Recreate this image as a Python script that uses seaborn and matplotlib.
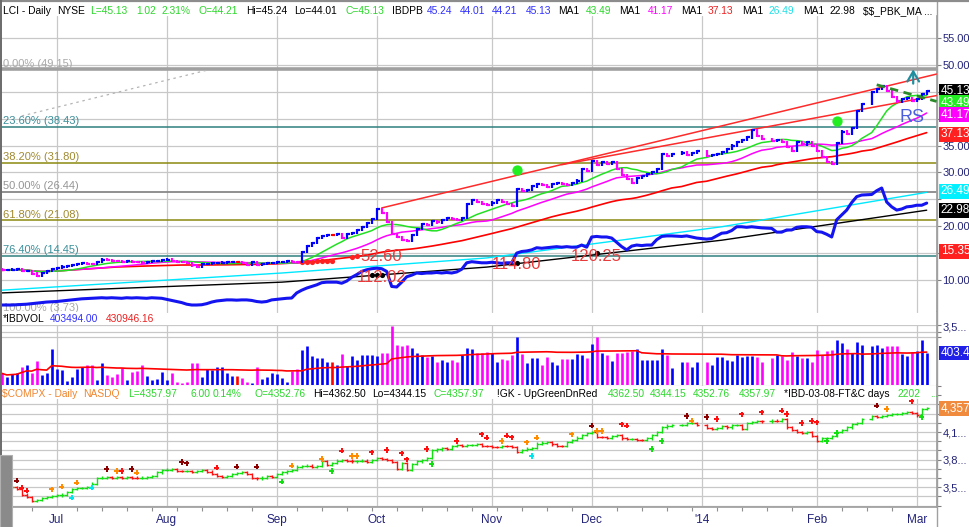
import numpy as np
import pandas as pd
import matplotlib
matplotlib.use("Agg")
import matplotlib.pyplot as plt
import matplotlib.transforms as mtransforms
from matplotlib.lines import Line2D
from matplotlib.patches import Rectangle
from matplotlib.ticker import FixedLocator, FixedFormatter, NullLocator
import seaborn as sns

sns.set_theme(style="white")
plt.rcParams['font.family'] = ['Liberation Sans', 'DejaVu Sans']

nan = np.nan

# trading calendar; the Dec-Feb holidays keep an empty slot like the source chart
calendar = pd.bdate_range("2013-06-14", "2014-03-07")
calendar = calendar.drop(pd.to_datetime(["2013-07-04", "2013-09-02", "2013-11-28"]))

# ---- LCI daily closes (one per slot, nan = holiday slot)
lci_prev_close = 12.0
lci_close = [
    11.8, 11.9, 11.95, 12.0, 11.6, 11.7, 11.2, 10.8, 11.3, 11.7,
    12.0, 12.3, 12.5, 12.6, 12.8, 12.9, 13.2, 13.0, 12.9, 13.3,
    13.8, 13.7, 13.6, 13.5, 13.3, 13.5, 13.4, 13.3, 13.2, 13.4,
    13.5, 13.6, 13.7, 13.8, 13.6, 13.4, 13.3, 13.1, 12.7, 12.5,
    12.9, 13.0, 13.1, 13.2, 13.25, 13.3, 13.35, 13.35, 13.1, 12.8,
    13.3, 12.8, 13.0, 13.1, 13.2, 13.3, 13.4, 13.5, 13.4, 13.3,
    15.2, 16.4, 16.9, 17.8, 18.2, 18.4, 18.4, 18.6, 17.9, 18.5,
    18.8, 19.3, 19.9, 20.6, 21.4, 23.2, 22.4, 20.8, 18.6, 18.0,
    17.5, 17.2, 18.4, 19.5, 20.4, 20.2, 20.9, 20.7, 21.2, 21.5,
    21.3, 21.1, 21.5, 24.2, 24.8, 24.5, 24.2, 23.9, 24.4, 24.8,
    24.5, 24.2, 23.8, 26.9, 26.5, 26.8, 27.4, 27.9, 27.6, 27.3,
    27.8, 28.1, 27.9, 27.7, 28.1, 28.5, 30.6, 30.2, 32.2, 31.4,
    32.0, 31.6, 31.9, 30.6, 29.6, 28.8, 28.0, 28.9, 29.3, 29.7,
    30.1, 30.6, 33.4, 33.0, 33.5, nan, 33.7, 33.2, 33.6, 33.9,
    nan, 33.0, 33.2, 33.4, 33.8, 34.4, 35.0, 35.6, 36.0, 36.5,
    37.8, 36.8, 36.2, nan, 35.8, 36.1, 35.6, 34.8, 34.0, 35.6,
    35.2, 35.7, 35.0, 34.0, 32.9, 32.0, 31.5, 35.4, 37.6, 37.2,
    38.3, 41.5, 42.8, nan, 44.9, 45.5, 46.0, 45.2, 44.0, 43.2,
    43.6, 43.9, 43.3, 43.7, 44.6, 45.13,
]

# relative strength line, drawn in the price panel's units
rs_line = [
    5.35, 5.35, 5.35, 5.4, 5.45, 5.5, 5.6, 5.7, 5.8, 5.9,
    5.95, 6.0, 6.1, 6.2, 6.3, 6.4, 6.5, 6.55, 6.6, 6.65,
    6.7, 6.65, 6.7, 6.65, 6.6, 6.7, 6.65, 6.7, 6.65, 6.6,
    6.7, 6.65, 6.6, 6.4, 6.2, 6.0, 5.8, 5.5, 5.35, 5.35,
    5.4, 5.6, 5.9, 6.1, 6.2, 6.3, 6.3, 6.25, 6.3, 6.3,
    6.2, 6.0, 5.9, 6.0, 6.3, 6.4, 6.5, 6.6, 6.65, 7.6,
    8.1, 8.5, 8.8, 9.1, 9.5, 9.6, 9.6, 9.6, 9.4, 9.8,
    10.5, 11.0, 11.6, 11.9, 12.1, 12.2, 12.1, 11.6, 8.8, 8.7,
    9.6, 10.6, 10.9, 11.3, 11.2, 11.3, 11.3, 11.4, 11.3, 11.4,
    11.3, 11.5, 12.0, 13.2, 13.4, 13.3, 13.2, 13.2, 13.3, 13.2,
    13.1, 13.2, 13.2, 15.0, 15.3, 15.4, 15.6, 16.0, 15.9, 16.0,
    16.1, 16.2, 16.1, 16.2, 16.1, 16.1, 16.5, 16.1, 18.0, 18.1,
    18.0, 18.0, 17.8, 17.0, 16.2, 15.6, 16.3, 16.5, 16.4, 16.5,
    16.5, 17.5, 18.1, 18.2, 18.2, nan, 18.1, 18.2, 18.0, 17.8,
    nan, 17.6, 17.7, 18.2, 18.7, 18.8, 19.2, 19.9, 19.9, 19.8,
    19.9, 19.8, 19.7, nan, 19.6, 18.9, 18.9, 19.3, 19.3, 19.8,
    19.9, 19.9, 19.8, 19.0, 18.9, 18.5, 18.0, 21.2, 22.1, 23.0,
    24.4, 25.5, 25.8, nan, 25.9, 26.6, 27.1, 24.5, 23.6, 23.0,
    23.2, 23.6, 23.7, 23.9, 23.9, 24.3,
]

# daily volume, thousands of shares
lci_volume_k = [
    70, 52, 66, 70, 118, 144, 74, 202, 61, 70,
    556, 99, 93, 36, 52, 99, 124, 144, 144, 39,
    166, 61, 52, 66, 108, 39, 81, 88, 144, 56,
    39, 43, 81, 39, 70, 32, 30, 34, 166, 175,
    52, 99, 93, 124, 118, 70, 57, 57, 45, 34,
    30, 124, 42, 52, 74, 64, 45, 34, 88, 99,
    523, 738, 312, 269, 255, 191, 191, 144, 371, 132,
    312, 221, 340, 340, 340, 312, 394, 414, 4140, 805,
    738, 805, 605, 394, 340, 295, 312, 191, 221, 191,
    221, 191, 340, 605, 556, 394, 394, 429, 414, 191,
    234, 221, 340, 1644, 371, 175, 255, 255, 144, 279,
    191, 144, 234, 234, 234, 371, 340, 269, 877, 1644,
    414, 340, 202, 414, 394, 452, 493, 570, 221, 221,
    221, 221, 570, 340, 108, nan, 186, 186, 118, 186,
    nan, 186, 144, 279, 279, 221, 208, 340, 294, 312,
    312, 294, 186, nan, 255, 340, 312, 221, 429, 312,
    255, 255, 191, 523, 340, 493, 523, 1239, 982, 556,
    394, 1014, 805, nan, 738, 805, 605, 738, 738, 738,
    371, 312, 452, 493, 1239, 414,
]

# Nasdaq composite closes
compx_prev_close = 3470
compx_close = [
    3480, 3490, 3500, 3485, 3420, 3395, 3350, 3365, 3380, 3395,
    3405, 3410, 3420, 3445, 3480, 3490, 3495, 3500, 3540, 3600,
    3605, 3610, 3605, 3610, 3600, 3610, 3605, 3600, 3605, 3612,
    3625, 3660, 3690, 3692, 3695, 3680, 3675, 3678, 3670, 3680,
    3685, 3670, 3645, 3625, 3615, 3625, 3640, 3655, 3660, 3640,
    3600, 3595, 3605, 3620, 3612, 3645, 3660, 3680, 3690, 3725,
    3730, 3735, 3725, 3730, 3780, 3740, 3760, 3790, 3800, 3790,
    3780, 3785, 3790, 3775, 3800, 3820, 3810, 3800, 3770, 3700,
    3760, 3690, 3750, 3780, 3800, 3815, 3900, 3910, 3925, 3915,
    3950, 3955, 3945, 3955, 3960, 3965, 3950, 3945, 3940, 3935,
    3950, 3945, 3935, 3880, 3905, 3920, 3930, 3975, 3985, 3990,
    3965, 3950, 3945, 3990, 4015, 4040, 4065, 4090, 4095, 4050,
    4045, 4040, 4055, 4070, 4030, 4020, 4025, 4015, 4010, 4030,
    4070, 4100, 4150, 4170, 4175, nan, 4180, 4195, 4200, 4175,
    nan, 4145, 4130, 4140, 4160, 4150, 4175, 4180, 4135, 4195,
    4210, 4220, 4215, nan, 4225, 4220, 4245, 4150, 4120, 4100,
    4085, 4095, 4060, 4005, 4030, 4035, 4060, 4100, 4120, 4150,
    4190, 4200, 4240, nan, 4275, 4265, 4270, 4285, 4295, 4300,
    4310, 4315, 4310, 4280, 4352, 4357.97,
]

# signal dots on the Nasdaq panel: bar number, level, kind
compx_sig_bar = [3, 4, 5, 10, 12, 14, 15, 18, 21, 23, 24, 26, 27, 36, 37, 43, 47, 51,
                 56, 58, 64, 66, 68, 70, 71, 74, 77, 80, 81, 85, 86, 91, 96, 97, 100,
                 101, 102, 105, 106, 107, 114, 118, 119, 120, 124, 125, 130, 132, 137,
                 138, 141, 143, 148, 152, 156, 157, 160, 162, 163, 165, 167, 175, 177,
                 182, 184]
compx_sig_val = [3571, 3495, 3462, 3477, 3506, 3386, 3549, 3495, 3698, 3679, 3679, 3698,
                 3658, 3777, 3759, 3712, 3723, 3723, 3560, 3734, 3807, 3679, 3897, 3842,
                 3842, 3879, 3904, 3868, 3803, 3915, 3752, 4005, 4075, 4038, 4005, 4060,
                 4042, 3988, 3842, 4038, 4075, 4169, 4114, 4114, 4184, 4169, 3915, 4005,
                 4277, 4223, 4266, 4241, 4292, 4314, 4332, 4296, 4195, 4220, 4205, 4005,
                 4092, 4386, 4350, 4440, 4266]
compx_sig_kind = ["dist", "down", "down", "stall", "stall", "low", "stall", "low", "dist",
                  "stall", "down", "dist", "stall", "dist", "dist", "down", "dist", "dist",
                  "up", "stall", "stall", "up", "down", "stall", "stall", "down", "down",
                  "down", "down", "down", "up", "down", "down", "down", "stall", "down",
                  "down", "stall", "low", "stall", "stall", "dist", "stall", "stall", "down",
                  "down", "up", "up", "dist", "stall", "dist", "down", "down", "down", "down",
                  "down", "down", "down", "down", "up", "up", "dist", "stall", "down", "up"]

# overlay lines (endpoints / vertices)
rs_ma_dates = ["2013-06-14", "2013-09-04", "2013-10-31", "2014-01-07", "2014-03-05"]
rs_ma_fast = [8.1, 11.3, 14.1, 19.9, 26.3]
rs_ma_slow = [7.6, 9.6, 12.4, 17.4, 22.98]
chan_upper_dates = ["2013-10-02", "2014-03-07"]
chan_upper = [23.4, 48.3]
chan_lower_dates = ["2013-11-21", "2014-03-07"]
chan_lower = [31.45, 44.3]
pivot_dates = ["2014-02-19", "2014-03-07"]
pivot_line = [46.3, 43.2]
fib_trace_dates = ["2013-06-20", "2013-08-13"]
fib_trace = [40.5, 49.0]

fib_pct = ["0.00%", "23.60%", "38.20%", "50.00%", "61.80%", "76.40%", "100.00%"]
fib_level = [49.15, 38.43, 31.80, 26.44, 21.08, 14.45, 3.73]

buy_dot_bar = [103, 167]
buy_dot_val = [30.45, 39.6]
red_dot_bar = [60, 61, 62, 63, 64, 65, 66, 70, 71]
red_dot_val = [13.3, 13.4, 13.4, 13.5, 13.5, 13.6, 13.6, 14.3, 14.4]
rs_note_text = ["52.60", "112.02", "114.80", "120.25"]
rs_note_bar = [76, 76, 103, 119]
rs_note_val = [14.45, 10.55, 12.8, 14.3]
rs_mark_bar = [74, 75, 76, 103, 119]
rs_mark_val = [10.9, 10.9, 10.9, 13.2, 15.0]

price_last_text = ["45.13", "43.49", "41.17", "37.13", "26.49", "22.98", "15.35"]
price_last_val = [45.13, 43.49, 41.17, 37.13, 26.49, 22.98, 15.35]

# ---------------------------------------------------------------- colours
BLUE, MAG, RED, GRN = "#0000ff", "#ff00ff", "#ff0000", "#22e022"
CYAN, NAVY, GRID = "#00e8ff", "#23237a", "#c8c8c8"
HG, HB, HO = "#2bd82b", "#3030ff", "#f0852d"
sig_colors = {"dist": "#8b0000", "stall": "#ff8c00", "down": "#ff1010",
              "up": "#10e010", "low": "#00e5ee"}
price_last_col = ["#000000", "#22ee22", "#ff00ff", "#ff2020", "#00f0ff", "#000000", "#ff2020"]

W, H = 970, 527
fig = plt.figure(figsize=(9.7, 5.27), dpi=100, facecolor="white")


def rect(x0, y0, x1, y1):
    return [x0 / W, 1 - y1 / H, (x1 - x0) / W, (y1 - y0) / H]


ax_p = fig.add_axes(rect(1, 16, 937, 312))
ax_v = fig.add_axes(rect(1, 312, 937, 385), sharex=ax_p)
ax_c = fig.add_axes(rect(1, 385, 937, 507), sharex=ax_p)

slot_of = {d: i for i, d in enumerate(calendar)}


def slots(dates):
    return [slot_of[pd.Timestamp(d)] for d in dates]


n = len(lci_close)
assert n == len(rs_line) == len(lci_volume_k) == len(compx_close) == 186
bars = np.arange(n)
close = np.array(lci_close, float)
ok = ~np.isnan(close)
tb, tc = bars[ok], close[ok]

# ---------------------------------------------------------------- price panel
for lvl, col, lw in zip(fib_level, ["#a0a0a0", "#2f7f7f", "#8a8a10", "#888888",
                                    "#8a8a10", "#2f7f7f", "#a0a0a0"],
                        [2.6, 1.1, 1.1, 1.3, 1.1, 1.1, 1.1]):
    ax_p.axhline(lvl, color=col, lw=lw, zorder=1.5)

lab_cols = ["#a8a8a8", "#3a8f9a", "#a08a30", "#959595", "#a08a30", "#3a8f9a", "#a8a8a8"]
blend_p = mtransforms.blended_transform_factory(ax_p.transAxes, ax_p.transData)
lab_tr = mtransforms.offset_copy(blend_p, fig=fig, y=0.5, units="points")
for pct, lvl, col in zip(fib_pct, fib_level, lab_cols):
    ax_p.text(0.002, lvl, f"{pct} ({lvl:.2f})", transform=lab_tr, color=col,
              fontsize=8, va="bottom", ha="left", zorder=2)

ax_p.plot(slots(fib_trace_dates), fib_trace, color="#b4b4b4", lw=0.9,
          ls=(0, (2, 3)), zorder=2)

for w, col in [(50, RED), (21, MAG), (10, GRN)]:
    ma = pd.Series(tc).rolling(w, min_periods=1).mean().to_numpy()
    sns.lineplot(x=tb, y=ma, ax=ax_p, color=col, lw=1.1 if w < 50 else 1.2, zorder=2.5)

sns.lineplot(x=slots(rs_ma_dates), y=rs_ma_fast, ax=ax_p, color=CYAN, lw=1.0, zorder=2.5)
sns.lineplot(x=slots(rs_ma_dates), y=rs_ma_slow, ax=ax_p, color="black", lw=1.0, zorder=2.5)
sns.lineplot(x=bars, y=np.array(rs_line, float), ax=ax_p, color="#1414f0", lw=2.2, zorder=3)

ax_p.plot(slots(chan_upper_dates), chan_upper, color="#ff2a2a", lw=1.1, zorder=3)
ax_p.plot(slots(chan_lower_dates), chan_lower, color="#ff2a2a", lw=1.1, zorder=3)
ax_p.plot(slots(pivot_dates), pivot_line, color="#2a8a2a", lw=2.0, ls=(0, (3, 2)), zorder=5)

prev = np.r_[lci_prev_close, tc[:-1]]
chg = tc - prev
pcol = np.where(chg > 0, BLUE, np.where(chg < 0, MAG, RED))
ax_p.vlines(tb, np.minimum(prev, tc) - 0.2, np.maximum(prev, tc) + 0.2,
            colors=pcol, lw=1.6, zorder=4)
ax_p.hlines(tc, tb, tb + 0.6, colors=pcol, lw=1.6, zorder=4)

ax_p.scatter(buy_dot_bar, buy_dot_val, s=55, color="#22ee22", lw=0, zorder=5)
ax_p.scatter(red_dot_bar, red_dot_val, s=14, color="#ff2020", lw=0, zorder=3.5)
ax_p.scatter(rs_mark_bar, rs_mark_val, s=14, color="black", lw=0, zorder=3.5)
for txt, b, v in zip(rs_note_text, rs_note_bar, rs_note_val):
    ax_p.text(b, v, txt, color="#e83a3a", fontsize=12, ha="center", va="center", zorder=6)
ax_p.text(182, 40.2, "RS", color="#4a5fe0", fontsize=13, ha="center", va="center", zorder=6)
ax_p.annotate("", xy=(182.3, 49.7), xytext=(182.3, 46.0),
              arrowprops=dict(arrowstyle="->,head_length=0.6,head_width=0.35",
                              color="#1f8f9f", lw=1.6), zorder=6)

# tick labels hidden behind the last-value boxes are left blank
ptick = np.arange(10, 56, 5)
ax_p.set_ylim(4.05, 59.09)
ax_p.yaxis.set_major_locator(FixedLocator(ptick))
ax_p.yaxis.set_major_formatter(FixedFormatter(
    ["" if v in (15, 25, 40, 45) else f"{v:.2f}" for v in ptick]))


def value_boxes(ax, texts, vals, cols, gap):
    blend = mtransforms.blended_transform_factory(ax.transAxes, ax.transData)
    last = None
    for t, v, c in sorted(zip(texts, vals, cols), key=lambda z: -z[1]):
        pos = v if last is None else min(v, last - gap)
        last = pos
        ax.text(1.004, pos, t, transform=blend, color="white", fontsize=8.5,
                ha="left", va="center", clip_on=False, zorder=20,
                bbox=dict(boxstyle="square,pad=0.12", fc=c, ec="none"))


value_boxes(ax_p, price_last_text, price_last_val, price_last_col, 2.2)

# ---------------------------------------------------------------- volume panel
vol = np.array(lci_volume_k, float)[ok]
ax_v.set_yscale("log")
ax_v.vlines(tb, 20, vol, colors=pcol, lw=1.9, zorder=3)
vol_ma = pd.Series(vol).rolling(50, min_periods=1).mean().to_numpy()
sns.lineplot(x=tb, y=vol_ma, ax=ax_v, color=RED, lw=1.2, zorder=4)
ax_v.set_ylim(25.6, 13870)
ax_v.yaxis.set_major_locator(FixedLocator([1560, 2530, 4520]))
ax_v.yaxis.set_major_formatter(FixedFormatter(["", "", ""]))
ax_v.yaxis.set_minor_locator(NullLocator())
blend_v = mtransforms.blended_transform_factory(ax_v.transAxes, ax_v.transData)
ax_v.text(1.006, 3500, "3,5...", transform=blend_v, color=NAVY, fontsize=8,
          ha="left", va="center", clip_on=False)
value_boxes(ax_v, ["403.4"], [403.494], ["#2020e8"], 0)

# ---------------------------------------------------------------- Nasdaq panel
cc = np.array(compx_close, float)[ok]
cprev = np.r_[compx_prev_close, cc[:-1]]
ccol = np.where(cc > cprev, "#10e010", "#ff1010")
ax_c.vlines(tb, np.minimum(cprev, cc) - 12, np.maximum(cprev, cc) + 12,
            colors=ccol, lw=1.0, zorder=3)
ax_c.hlines(cc, tb, tb + 0.45, colors=ccol, lw=1.0, zorder=3)
ax_c.hlines(cprev, tb - 0.45, tb, colors=ccol, lw=1.0, zorder=3)
ax_c.scatter(compx_sig_bar, compx_sig_val, c=[sig_colors[k] for k in compx_sig_kind],
             marker="P", s=16, lw=0, zorder=4)
ax_c.set_ylim(3285, 4611)
cticks = np.arange(3300, 4601, 100)
ax_c.yaxis.set_major_locator(FixedLocator(cticks))
ax_c.yaxis.set_major_formatter(FixedFormatter(
    [{4100: "4,1...", 3800: "3,8...", 3500: "3,5..."}.get(int(t), "")
     for t in cticks]))
value_boxes(ax_c, ["4,357"], [4357.97], ["#f08a3c"], 0)

# ---------------------------------------------------------------- shared x axis
months = pd.Series(calendar.to_period("M"))
month_first = [i for i in range(1, len(calendar)) if months[i] != months[i - 1]]
month_lab = ["'14" if calendar[i].month == 1 else calendar[i].strftime("%b") for i in month_first]
weeks = pd.Series(calendar.to_period("W"))
week_first = [i for i in range(1, len(calendar)) if weeks[i] != weeks[i - 1]]

ax_c.set_xlim(-0.14, 187.06)
ax_c.set_xticks(month_first)
ax_c.set_xticklabels(month_lab)
ax_c.set_xticks(week_first, minor=True)

for ax in (ax_p, ax_v, ax_c):
    ax.set(xlabel="", ylabel="")
    ax.set_facecolor("white")
    ax.yaxis.tick_right()
    ax.grid(True, which="major", color=GRID, lw=0.9, zorder=0)
    for s in ("top", "left", "bottom"):
        ax.spines[s].set_visible(False)
    ax.spines["right"].set_color("#a0a0a0")
    ax.tick_params(axis="y", which="major", direction="out", length=3, width=0.8,
                   color="#808080", labelcolor=NAVY, labelsize=8, pad=1)
    ax.set_axisbelow(True)

ax_p.tick_params(axis="x", which="both", length=0, labelbottom=False)
ax_v.tick_params(axis="x", which="both", length=0, labelbottom=False)
ax_c.spines["bottom"].set_visible(True)
ax_c.spines["bottom"].set_color("#a0a0a0")
ax_c.tick_params(axis="x", which="major", direction="out", length=4, width=0.8,
                 color="#909090", labelcolor=NAVY, labelsize=8.5, pad=1)
ax_c.tick_params(axis="x", which="minor", direction="out", length=3, width=0.8,
                 color="#909090", bottom=True)

# ---------------------------------------------------------------- header rows
for y0, y1 in [(312.5, 325), (386, 399)]:
    fig.add_artist(Rectangle((1.5 / W, 1 - y1 / H), 935 / W, (y1 - y0) / H,
                             transform=fig.transFigure, fc="white", ec="none", zorder=1))
fig.add_artist(Line2D([937 / W, 937 / W], [0, 1], transform=fig.transFigure,
                      color="#a0a0a0", lw=1.0, zorder=2))
fig.add_artist(Line2D([0, 1], [1 - 0.8 / H, 1 - 0.8 / H], transform=fig.transFigure,
                      color="#8c8c8c", lw=1.6, zorder=2))
fig.add_artist(Line2D([0.7 / W, 0.7 / W], [0, 1], transform=fig.transFigure,
                      color="#6a6a6a", lw=1.4, zorder=2))
fig.add_artist(Rectangle((0, 0), 12 / W, 72 / H, transform=fig.transFigure,
                         fc="#8a8a8a", ec="#b0b0b0", lw=0.8, zorder=2))

K = "black"
header_top = [(3, "LCI - Daily", K), (57, "NYSE", K), (90, "L=45.13", HG), (136, "1.02", HG),
              (162, "2.31%", HG), (199, "O=44.21", HG), (246, "Hi=45.24", K),
              (294, "Lo=44.01", K), (345, "C=45.13", HG), (392, "IBDPB", K),
              (427, "45.24", HB), (460, "44.01", HB), (492, "44.21", HB), (526, "45.13", HB),
              (558, "MA1", K), (586, "43.49", HG), (619, "MA1", K), (648, "41.17", MAG),
              (681, "MA1", K), (708, "37.13", "#ee2020"), (742, "MA1", K),
              (769, "26.49", "#20e0e8"), (803, "MA1", K), (830, "22.98", K),
              (863, r"\$\$_PBK_MA ...", K)]
header_vol = [(3, "*IBDVOL", K), (50, "403494.00", HB), (106, "430946.16", "#ee2020")]
header_cpx = [(2, r"\$COMPX - Daily", HO), (83, "NASDQ", HO), (128, "L=4357.97", HG),
              (191, "6.00", HG), (213, "0.14%", HG), (255, "O=4352.76", HG),
              (313, "Hi=4362.50", K), (372, "Lo=4344.15", K), (433, "C=4357.97", HG),
              (497, "!GK - UpGreenDnRed", K), (608, "4362.50", HG), (650, "4344.15", HG),
              (693, "4352.76", HG), (739, "4357.97", HG), (784, "*IBD-03-08-FT&C days", K),
              (898, "2202", HG), (930, "...", HG)]
for yy, row in [(11, header_top), (319, header_vol), (394, header_cpx)]:
    for xx, txt, col in row:
        fig.text(xx / W, 1 - yy / H, txt, color=col, fontsize=7.4, ha="left", va="center",
                 zorder=3)

fig.savefig("out.png", dpi=100, facecolor="white")
